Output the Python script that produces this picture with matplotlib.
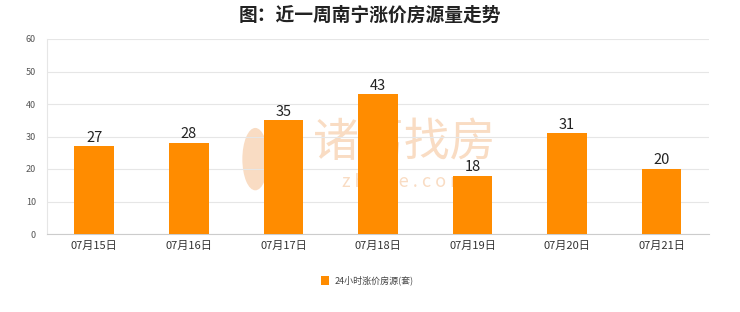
import matplotlib
matplotlib.use("Agg")
import matplotlib.pyplot as plt
from matplotlib.patches import Rectangle, Ellipse

plt.rcParams['font.family'] = ['Noto Sans CJK SC', 'DejaVu Sans']

dates = ["07月15日", "07月16日", "07月17日", "07月18日", "07月19日", "07月20日", "07月21日"]
counts = [27, 28, 35, 43, 18, 31, 20]
series_name = "24小时涨价房源(套)"
title = "图：近一周南宁涨价房源量走势"

bar_color = "#FF8C00"
mark_color = "#f9dcc3"

fig = plt.figure(figsize=(7.4, 3.12), dpi=100)
fig.patch.set_facecolor("white")
ax = fig.add_axes([0.0635, 0.25, 0.8945, 0.625])

x = list(range(len(dates)))
ax.bar(x, counts, width=0.42, color=bar_color, zorder=3)
for xi, v in zip(x, counts):
    ax.text(xi, v + 0.5, str(v), ha="center", va="bottom", fontsize=10.5,
            color="#222222", zorder=4)

ax.set_xlim(-0.5, len(dates) - 0.5)
ax.set_ylim(0, 60)
ax.set_yticks(range(0, 61, 10))
ax.set_xticks(x)
ax.set_xticklabels(dates, fontsize=8, color="#333333")
ax.tick_params(axis="y", labelsize=6.5, colors="#555555", length=0, pad=8)
ax.tick_params(axis="x", length=0, pad=5)
ax.grid(axis="y", color="#e6e6e6", linewidth=0.8, zorder=0)
for side in ["top", "right"]:
    ax.spines[side].set_visible(False)
ax.spines["left"].set_color("#e6e6e6")
ax.spines["bottom"].set_color("#cccccc")

# watermark behind the bars
ax.text(0.547, 0.542, "诸葛找房", transform=fig.transFigure, fontsize=33,
        color=mark_color, ha="center", va="center", fontweight="light", zorder=1)
ax.text(0.547, 0.417, "z h u g e . c o m", transform=fig.transFigure, fontsize=13,
        color=mark_color, ha="center", va="center", zorder=1)
ax.add_patch(Ellipse((0.345, 0.49), 0.035, 0.2, transform=fig.transFigure,
                     facecolor=mark_color, edgecolor="none", zorder=1))

fig.text(0.5, 0.95, title, fontsize=13.5, fontweight="bold", ha="center",
         va="center", color="#222222")

# legend
fig.patches.append(Rectangle((0.434, 0.088), 0.011, 0.026, transform=fig.transFigure,
                             facecolor=bar_color, edgecolor="none"))
fig.text(0.452, 0.101, series_name, fontsize=6.5, color="#444444", va="center", ha="left")

fig.savefig("out.png", dpi=100, facecolor="white")
